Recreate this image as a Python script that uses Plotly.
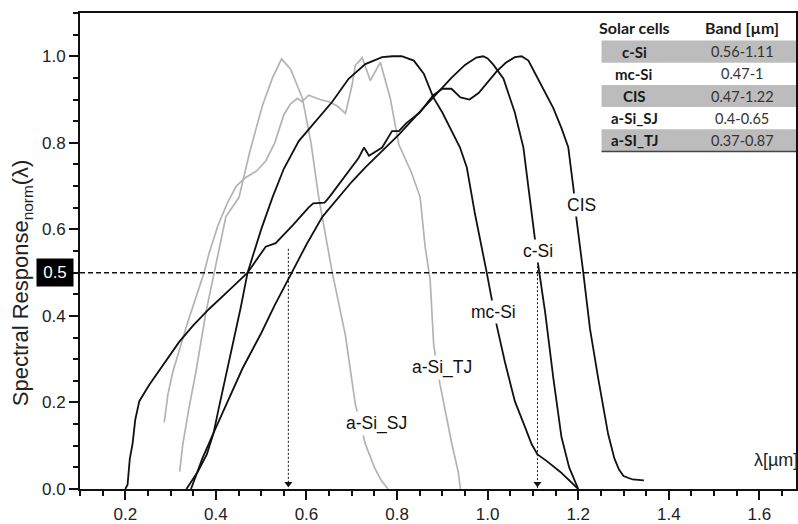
import plotly.graph_objects as go

# ---------------- data ----------------
csi_x = [0.345, 0.37, 0.40, 0.43, 0.459, 0.50, 0.53, 0.569, 0.60, 0.635, 0.672, 0.70, 0.73, 0.77, 0.804,
         0.84, 0.88, 0.92, 0.95, 0.975, 0.99, 1.0, 1.013, 1.035, 1.06, 1.079, 1.09, 1.103, 1.112, 1.127,
         1.145, 1.163, 1.18, 1.2]
csi_y = [0.0, 0.07, 0.142, 0.21, 0.279, 0.36, 0.425, 0.503, 0.565, 0.629, 0.674, 0.71, 0.743, 0.785, 0.819,
         0.86, 0.905, 0.95, 0.98, 0.997, 1.0, 0.995, 0.98, 0.948, 0.87, 0.789, 0.697, 0.583, 0.515, 0.408,
         0.256, 0.12, 0.05, 0.0]

mcsi_x = [0.335, 0.36, 0.38, 0.395, 0.405, 0.418, 0.437, 0.455, 0.47, 0.50, 0.525, 0.55, 0.583, 0.62, 0.657,
          0.693, 0.73, 0.767, 0.79, 0.81, 0.837, 0.859, 0.88, 0.90, 0.92, 0.939, 0.954, 0.972, 0.998, 1.009,
          1.02, 1.038, 1.06, 1.083, 1.097, 1.11, 1.13, 1.16, 1.18, 1.2]
mcsi_y = [0.0, 0.04, 0.08, 0.13, 0.18, 0.241, 0.332, 0.42, 0.5, 0.6, 0.674, 0.74, 0.804, 0.849, 0.895,
          0.948, 0.982, 0.998, 1.0, 1.0, 0.99, 0.96, 0.905, 0.87, 0.83, 0.789, 0.743, 0.636, 0.5, 0.439,
          0.378, 0.294, 0.203, 0.142, 0.104, 0.08, 0.065, 0.04, 0.02, 0.0]

cis_x = [0.20, 0.205, 0.21, 0.216, 0.222, 0.231, 0.253, 0.285, 0.319, 0.35, 0.385, 0.43, 0.47, 0.51, 0.532,
         0.57, 0.605, 0.615, 0.64, 0.65, 0.694, 0.715, 0.727, 0.738, 0.767, 0.789, 0.804, 0.82, 0.85, 0.88,
         0.90, 0.92, 0.94, 0.96, 0.98, 1.0, 1.02, 1.04, 1.06, 1.075, 1.09, 1.10, 1.123, 1.145, 1.163, 1.178,
         1.19, 1.196, 1.211, 1.226, 1.244, 1.266, 1.28, 1.29, 1.30, 1.32, 1.345]
cis_y = [0.0, 0.01, 0.07, 0.104, 0.16, 0.203, 0.241, 0.29, 0.34, 0.378, 0.416, 0.46, 0.5, 0.56, 0.568,
         0.61, 0.651, 0.66, 0.662, 0.674, 0.735, 0.765, 0.789, 0.77, 0.789, 0.827, 0.827, 0.845, 0.87, 0.91,
         0.925, 0.925, 0.905, 0.90, 0.915, 0.94, 0.965, 0.985, 0.998, 1.0, 0.99, 0.97, 0.925, 0.88, 0.834, 0.79,
         0.69, 0.625, 0.501, 0.37, 0.256, 0.127, 0.07, 0.045, 0.03, 0.022, 0.02]

asisj_x = [0.32, 0.327, 0.341, 0.356, 0.378, 0.40, 0.422, 0.451, 0.475, 0.503, 0.525, 0.545, 0.565, 0.591,
           0.61, 0.627, 0.657, 0.686, 0.708, 0.73, 0.75, 0.765, 0.78]
asisj_y = [0.04, 0.104, 0.189, 0.271, 0.408, 0.522, 0.629, 0.674, 0.78, 0.887, 0.95, 0.994, 0.97, 0.903,
           0.80, 0.674, 0.50, 0.355, 0.195, 0.104, 0.05, 0.02, 0.0]

asitj_x = [0.286, 0.294, 0.305, 0.338, 0.374, 0.385, 0.405, 0.425, 0.445, 0.466, 0.49, 0.51, 0.53, 0.55,
           0.565, 0.58, 0.59, 0.605, 0.63, 0.65, 0.668, 0.686, 0.70, 0.708, 0.723, 0.741, 0.763, 0.785, 0.804,
           0.82, 0.833, 0.851, 0.862, 0.873, 0.881, 0.895, 0.921, 0.935, 0.94]
asitj_y = [0.154, 0.218, 0.271, 0.386, 0.5, 0.545, 0.61, 0.66, 0.70, 0.72, 0.735, 0.758, 0.80, 0.865,
           0.89, 0.903, 0.895, 0.91, 0.90, 0.895, 0.885, 0.868, 0.93, 0.979, 0.997, 0.944, 0.986, 0.903, 0.796,
           0.76, 0.728, 0.674, 0.56, 0.484, 0.332, 0.241, 0.104, 0.04, 0.0]

# curve label positions (x, y)
curve_labels = ["mc-Si", "c-Si", "CIS", "a-Si_TJ", "a-Si_SJ"]
label_x = [1.012, 1.112, 1.207, 0.899, 0.755]
label_y = [0.408, 0.549, 0.656, 0.281, 0.152]

# band markers (half-max wavelengths of c-Si)
marker_x = [0.56, 1.11]
marker_top = [0.555, 0.515]
half_level = 0.5

# table
table_cells = ["c-Si", "mc-Si", "CIS", "a-Si_SJ", "a-SI_TJ"]
table_bands = ["0.56-1.11", "0.47-1", "0.47-1.22", "0.4-0.65", "0.37-0.87"]
table_header = ["Solar cells", "Band [\u00b5m]"]

y_ticks = [0.0, 0.2, 0.4, 0.6, 0.8, 1.0]

# ---------------- layout helpers ----------------
W, H = 798, 524
ML, MR, MT, MB = 80, 0, 13, 28
PW, PH = W - ML - MR, H - MT - MB

def px(xp):
    return (xp - ML) / PW

def py(yp):
    return (H - MB - yp) / PH

BLACK = "#111111"
GRAY = "#b3b3b3"
FONT = "Liberation Sans, Arial, sans-serif"

fig = go.Figure()

for xs, ys, col, w in [(asitj_x, asitj_y, GRAY, 1.7), (asisj_x, asisj_y, GRAY, 1.7),
                       (cis_x, cis_y, BLACK, 1.8), (csi_x, csi_y, BLACK, 1.8), (mcsi_x, mcsi_y, BLACK, 1.8)]:
    fig.add_trace(go.Scatter(x=xs, y=ys, mode="lines", line=dict(color=col, width=w),
                             showlegend=False, hoverinfo="skip"))

# vertical dotted markers with arrowheads
for mx, mt in zip(marker_x, marker_top):
    fig.add_trace(go.Scatter(x=[mx, mx], y=[mt, 0.0], mode="lines",
                             line=dict(color=BLACK, width=1, dash="2px,2px"),
                             showlegend=False, hoverinfo="skip"))
fig.add_trace(go.Scatter(x=marker_x, y=[0.012, 0.012], mode="markers",
                         marker=dict(symbol="triangle-down", size=7, color=BLACK),
                         showlegend=False, hoverinfo="skip"))

shapes = []
# horizontal dashed line at 0.5
shapes.append(dict(type="line", xref="paper", yref="y", x0=0, x1=1, y0=half_level, y1=half_level,
                   line=dict(color=BLACK, width=1.5, dash="5px,3px")))

# table
tx0, tx1 = px(603), 1.0
row_edges = [13.3, 41, 63.5, 86, 108.5, 131, 153.5]
for i in range(len(table_cells)):
    if i % 2 == 0:
        shapes.append(dict(type="rect", xref="paper", yref="paper", x0=tx0, x1=tx1,
                           y0=py(row_edges[i + 2]), y1=py(row_edges[i + 1]),
                           fillcolor="#bcbcbc", line=dict(width=0), layer="above"))
shapes.append(dict(type="line", xref="paper", yref="paper", x0=tx0, x1=tx1,
                   y0=py(row_edges[-1]), y1=py(row_edges[-1]),
                   line=dict(color="#444444", width=1.5)))

annotations = []
TFONT = "Lato, Open Sans, sans-serif"
c1, c2 = px(636), px(744)
for cx, txt in zip([c1, c2], table_header):
    annotations.append(dict(x=cx, y=py(28), xref="paper", yref="paper", xanchor="center",
                            yanchor="middle", text="<b>" + txt + "</b>", showarrow=False,
                            font=dict(family=TFONT, size=16, color="#1a1a1a")))
for i, (c, b) in enumerate(zip(table_cells, table_bands)):
    yc = py((row_edges[i + 1] + row_edges[i + 2]) / 2)
    annotations.append(dict(x=c1, y=yc, xref="paper", yref="paper", xanchor="center", yanchor="middle",
                            text="<b>" + c + "</b>", showarrow=False,
                            font=dict(family=TFONT, size=15, color="#1a1a1a")))
    annotations.append(dict(x=c2, y=yc, xref="paper", yref="paper", xanchor="center", yanchor="middle",
                            text=b, showarrow=False,
                            font=dict(family=TFONT, size=14.5, color="#333333")))

# curve labels
for t, lx, ly in zip(curve_labels, label_x, label_y):
    annotations.append(dict(x=lx, y=ly, text=t, showarrow=False, bgcolor="white", borderpad=1,
                            xanchor="center", yanchor="middle",
                            font=dict(family=FONT, size=17.5, color="#111111")))

# 0.5 black box
annotations.append(dict(x=0, y=half_level, xref="paper", yref="y", xanchor="right", yanchor="middle",
                        xshift=-6, text="0.5", showarrow=False, bgcolor="black", width=36, height=27,
                        borderpad=0, font=dict(family=FONT, size=17, color="white")))

# y axis title
annotations.append(dict(x=px(22), y=py(287), xref="paper", yref="paper", textangle=-90,
                        xanchor="center", yanchor="middle",
                        text="Spectral Response<sub>norm</sub>(\u03bb)", showarrow=False,
                        font=dict(family=FONT, size=22, color="#222222")))
# x axis title
annotations.append(dict(x=1, y=0.066, xref="paper", yref="y", xanchor="right", yanchor="middle", xshift=4,
                        text="\u03bb[\u00b5m]", showarrow=False,
                        font=dict(family=FONT, size=18, color="#222222")))

fig.update_layout(
    width=W, height=H, margin=dict(l=ML, r=MR, t=MT, b=MB),
    paper_bgcolor="white", plot_bgcolor="white",
    shapes=shapes, annotations=annotations,
    font=dict(family=FONT, size=17, color="#222222"),
    xaxis=dict(range=[0.1, 0.1 + PW / 454.2], tick0=0.2, dtick=0.2, tickformat=".1f",
               showgrid=False, zeroline=False, showline=True, linecolor=BLACK, linewidth=2,
               mirror=True, ticks="outside", ticklen=9, tickwidth=1.5, tickcolor=BLACK,
               minor=dict(dtick=0.05, tick0=0.0, ticks="outside", ticklen=5, tickwidth=1.5,
                          tickcolor=BLACK, showgrid=False),
               tickfont=dict(family=FONT, size=17, color="#222222")),
    yaxis=dict(range=[0, 1.1], tickvals=y_ticks, tickformat=".1f",
               showgrid=False, zeroline=False, showline=True, linecolor=BLACK, linewidth=2,
               mirror=True, ticks="outside", ticklen=9, tickwidth=1.5, tickcolor=BLACK,
               minor=dict(dtick=0.05, tick0=0.0, ticks="outside", ticklen=5, tickwidth=1.5,
                          tickcolor=BLACK, showgrid=False),
               tickfont=dict(family=FONT, size=17, color="#222222")),
)

fig.write_html("out.html")
